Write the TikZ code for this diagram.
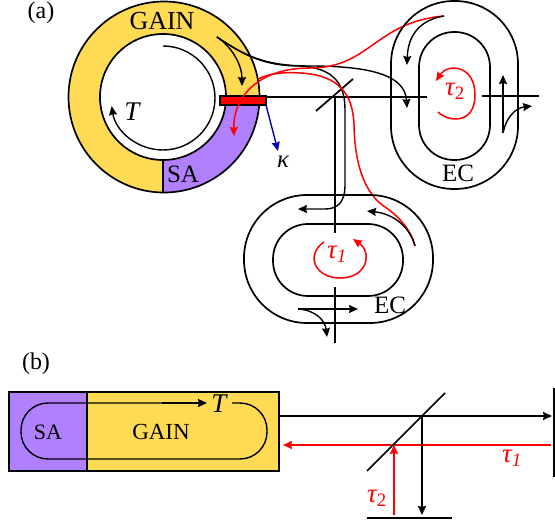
\documentclass[tikz,border=0pt]{standalone}
\usepackage{fontspec}
\setmainfont{Liberation Serif}
\usetikzlibrary{arrows.meta}
\definecolor{gaincol}{HTML}{FFDA54}
\definecolor{sacol}{HTML}{B080FF}
\newcommand{\taulab}[2]{{\itshape τ}\textsubscript{#1#2}}
\begin{document}
\begin{tikzpicture}[x=1pt, y=-1pt,
      wire/.style={line width=1.7pt, black},
      thin wire/.style={line width=1.4pt, black},
      redwire/.style={line width=1.5pt, red},
      tipped/.style={-{Stealth[length=9pt,width=8pt,inset=1pt]}},
      lab/.style={inner sep=0pt, font=\fontsize{25}{25}\selectfont},
      smalllab/.style={inner sep=0pt, font=\fontsize{24}{24}\selectfont},
      redlab/.style={inner sep=0pt, red, font=\fontsize{27}{27}\selectfont}]
    \useasboundingbox (0,0) rectangle (555,524);
    \node[smalllab] (tagA) at (41,13) {(a)};
    \node[smalllab] (tagB) at (36,364) {(b)};
    % ring laser
    \begin{scope}
      \fill[gaincol] (164,97) circle (95.5);
      \fill[sacol] (163,100) -- (259.5,100) arc[start angle=2,end angle=90,radius=96] -- cycle;
      \fill[white] (163,97) circle (63);
      \draw[wire] (164,97) circle (95.5);
      \draw[wire] (163,97) circle (63);
      \draw[wire] (163,160) -- (163,192);
      \draw[thin wire, tipped] (163,46) arc[start angle=-90,end angle=171,radius=52];
      \node[lab, font=\fontsize{26}{26}\selectfont] (gainA) at (162,21) {GAIN};
      \node[lab] (saA) at (183,174) {SA};
      \node[lab, font=\fontsize{27}{27}\selectfont] (tA) at (132,112) {\itshape T};
      \node[lab] (kappa) at (283,162) {\itshape κ};
    \end{scope}
    % beams
    \draw[wire] (266,97) -- (427,97);
    \draw[wire] (482,96) -- (539,96);
    \draw[wire] (335,97) -- (335,233);
    \draw[wire] (335,287) -- (335,343);
    \draw[wire] (316,111) -- (353,79);
    \draw[thin wire, blue!70!black, tipped] (266,105) -- (278,151);
    \draw[thin wire, tipped] (217,37) .. controls (232,47) and (242,65) .. (242,86);
    \draw[thin wire, tipped] (217,37) .. controls (245,56) and (265,66) .. (310,66)
      .. controls (370,66) and (405,75) .. (407,108);
    \draw[thin wire, tipped] (217,37) .. controls (245,56) and (265,66) .. (300,66)
      .. controls (335,68) and (345,85) .. (345,110) -- (345,185)
      .. controls (345,203) and (337,209) .. (325,209) -- (298,209);
    \draw[wire, fill=red] (220,96) rectangle (266,105);
    \draw[redwire, tipped] (310,68) .. controls (255,68) and (233,100) .. (234,136);
    \draw[redwire] (310,68) .. controls (370,68) and (375,22) .. (444,16);
    \draw[redwire] (258,79) .. controls (270,73) and (285,72) .. (300,73)
      .. controls (340,75) and (353,95) .. (354,125)
      .. controls (355,175) and (370,197) .. (385,207)
      .. controls (400,217) and (412,232) .. (415,246);
    % right cavity
    \begin{scope}
      \draw[wire, rounded corners=63pt] (391,1) rectangle (518,189);
      \draw[wire, rounded corners=35pt] (419,32) rectangle (490,160);
      \draw[thin wire, tipped] (444,16) .. controls (420,20) and (408,35) .. (407,65);
      \draw[thin wire, tipped] (503,133) -- (503,75);
      \draw[thin wire, tipped] (503,133) .. controls (506,118) and (515,108) .. (532,106);
      \draw[redwire, tipped] (438,112) .. controls (448,122) and (475,125) .. (475,95)
        .. controls (475,65) and (448,63) .. (436,81);
      \node[redlab] (tauTwo) at (455,91) {\taulab{}{2}};
      \node[lab] (ecRight) at (458,173) {EC};
    \end{scope}
    % lower cavity
    \begin{scope}
      \draw[wire, rounded corners=63pt] (244,195) rectangle (433,323);
      \draw[wire, rounded corners=35pt] (273,224) rectangle (403,296);
      \draw[thin wire, tipped] (415,246) .. controls (410,228) and (395,214) .. (367,211);
      \draw[thin wire, tipped] (298,309) -- (358,309);
      \draw[thin wire, tipped] (298,309) .. controls (315,310) and (325,320) .. (327,337);
      \draw[redwire, tipped] (324,242) .. controls (305,255) and (315,278) .. (340,278)
        .. controls (368,278) and (372,252) .. (353,239);
      \node[redlab] (tauOne) at (337,254) {\taulab{\itshape}{1}};
      \node[lab] (ecLow) at (390,305) {EC};
    \end{scope}
    % linear version
    \begin{scope}
      \fill[gaincol] (87,392) rectangle (279,471);
      \fill[sacol] (9,392) rectangle (87,471);
      \draw[wire] (9,392) rectangle (279,471);
      \draw[thin wire] (87,392) -- (87,471);
      \draw[thin wire, rounded corners=27pt] (232,403) -- (267,403) -- (267,459) -- (21,459) -- (21,403) -- (162,403);
      \draw[wire, tipped] (162,403) -- (207,403);
      \node[lab, font=\fontsize{27}{27}\selectfont] (tB) at (219,404) {\itshape T};
      \node[lab, font=\fontsize{22}{22}\selectfont] (saB) at (48,432) {SA};
      \node[lab, font=\fontsize{23}{23}\selectfont] (gainB) at (161,432) {GAIN};
      \draw[wire, tipped] (279,416) -- (552,416);
      \draw[redwire, tipped] (551,445) -- (283,445);
      \draw[wire] (367,471) -- (445,393);
      \draw[wire, tipped] (422,416) -- (422,515);
      \draw[redwire, tipped] (394,515) -- (394,445);
      \draw[wire] (554,388) -- (554,477);
      \draw[wire] (367,518) -- (452,518);
      \node[redlab] (tauOneB) at (512,458) {\taulab{\itshape}{1}};
      \node[redlab] (tauTwoB) at (377,498) {\taulab{}{2}};
    \end{scope}
  \end{tikzpicture}
\end{document}
